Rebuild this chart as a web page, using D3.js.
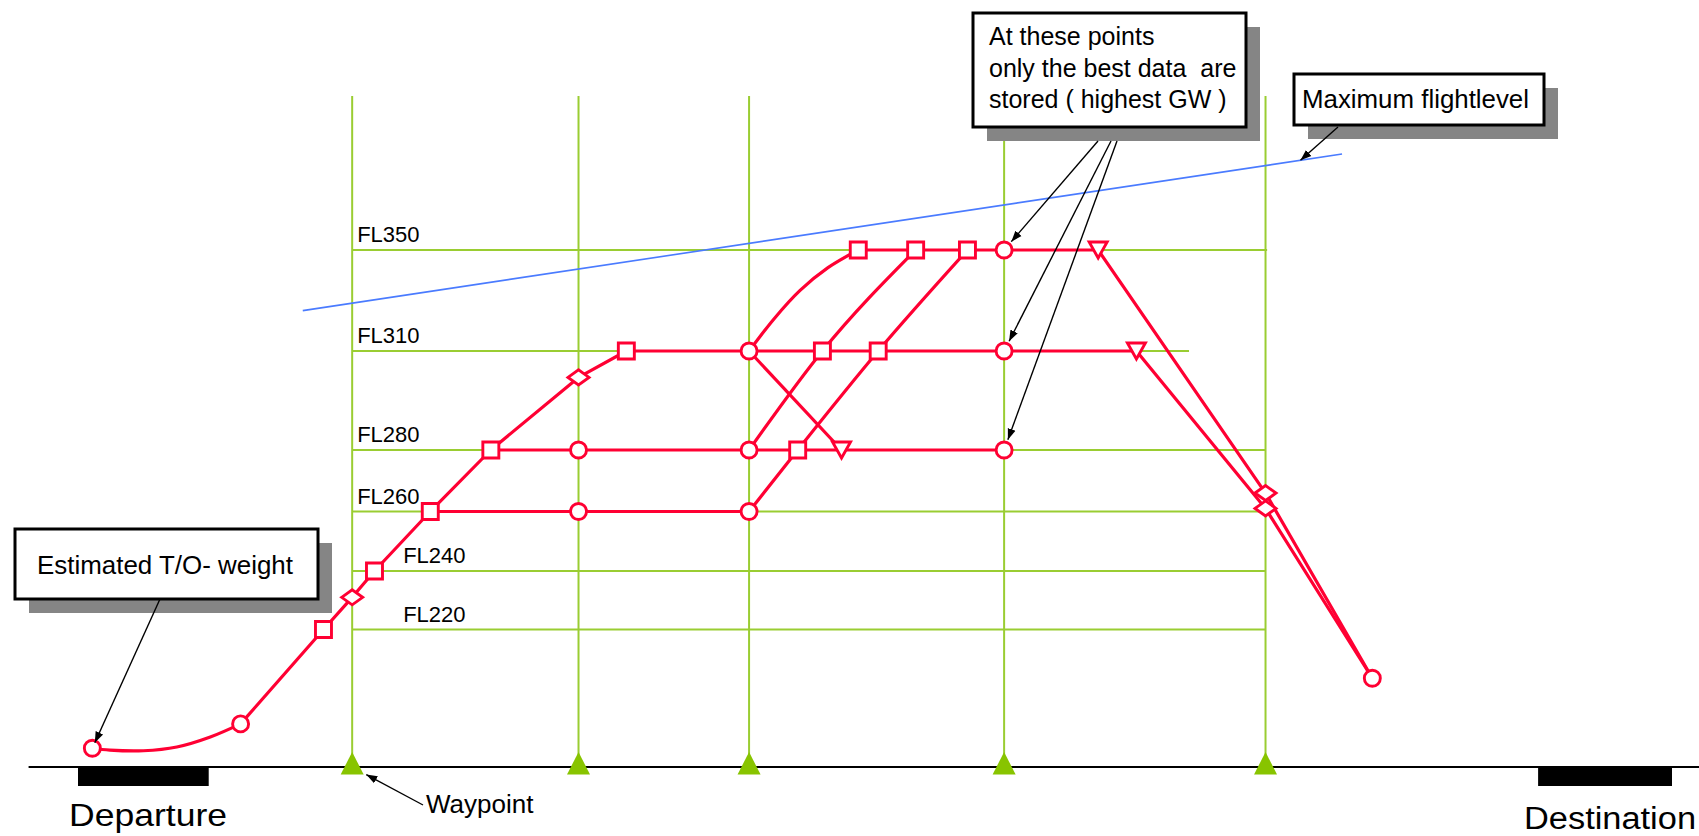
<!DOCTYPE html>
<html><head><meta charset="utf-8">
<script src="https://cdn.jsdelivr.net/npm/d3@7"></script>
<style>
body{margin:0;background:#fff;}
svg{display:block;}
text{font-family:"Liberation Sans",Arial,sans-serif;fill:#000;white-space:pre;}
</style>
</head><body><svg id="c" width="1699" height="836"></svg>
<script>
// ---------- data ----------
const flightLevels = [350, 310, 280, 260, 240, 220];
const flightLevelLabels = ["FL350", "FL310", "FL280", "FL260", "FL240", "FL220"];
const levelLineEnd = [746, 697, 745, 745, 745, 745];       // route distance where each level line stops
const waypoints = [172, 314, 421, 581, 745];               // route distance of waypoints
const airports = [{name: "Departure", from: 0, to: 82}, {name: "Destination", from: 916, to: 1000}];
const maxFlightLevel = [{d: 141, fl: 326}, {d: 793, fl: 388}];

const routeTakeoff = [{d: 9, fl: 30, m: "circle"}, {d: 20, fl: 27}, {d: 41, fl: 26}, {d: 62, fl: 32}, {d: 83, fl: 48}, {d: 102, fl: 69, m: "circle"}];
const routeClimb = [{d: 102, fl: 69}, {d: 154, fl: 220, m: "square"}, {d: 172, fl: 231, m: "diamond"}, {d: 186, fl: 240, m: "square"},
  {d: 221, fl: 260, m: "square"}, {d: 259, fl: 280, m: "square"}, {d: 314, fl: 302, m: "diamond"}, {d: 344, fl: 310, m: "square"},
  {d: 421, fl: 310, m: "circle"}, {d: 467, fl: 310, m: "square"}, {d: 502, fl: 310, m: "square"}, {d: 581, fl: 310, m: "circle"},
  {d: 664, fl: 310, m: "triangle"}];
const routeFL260 = [{d: 221, fl: 260}, {d: 314, fl: 260, m: "circle"}, {d: 421, fl: 260, m: "circle"}];
const routeFL260Climb = [{d: 421, fl: 260}, {d: 451.5, fl: 280, m: "square"}, {d: 502, fl: 310}, {d: 558, fl: 350, m: "square"}];
const routeFL280 = [{d: 259, fl: 280}, {d: 314, fl: 280, m: "circle"}, {d: 421, fl: 280, m: "circle"}, {d: 451.5, fl: 280},
  {d: 479, fl: 280, m: "triangle"}, {d: 581, fl: 280, m: "circle"}];
const routeFL280Climb = [{d: 421, fl: 280}, {d: 467, fl: 310}, {d: 525.5, fl: 350, m: "square"}];
const routeFL310Cross = [{d: 421, fl: 310}, {d: 479, fl: 280}];
const routeFL310Climb = [{d: 421, fl: 310}, {d: 437, fl: 323}, {d: 453, fl: 334}, {d: 470.5, fl: 343}, {d: 489.5, fl: 350, m: "square"}];
const routeFL350 = [{d: 489.5, fl: 350}, {d: 525.5, fl: 350}, {d: 558, fl: 350}, {d: 581, fl: 350, m: "circle"}, {d: 640, fl: 350, m: "triangle"}];
const routeDescent350 = [{d: 640, fl: 350}, {d: 745, fl: 266, m: "diamond"}, {d: 812, fl: 142, m: "circle"}];
const routeDescent310 = [{d: 664, fl: 310}, {d: 745, fl: 261, m: "diamond"}, {d: 812, fl: 142}];

const noteTakeoff = "Estimated T/O- weight";
const noteBest = ["At these points", "only the best data  are", "stored ( highest GW )"];
const noteMax = "Maximum flightlevel";
const noteWaypoint = "Waypoint";

// ---------- scales ----------
const x = d3.scaleLinear().domain([0, 1000]).range([78, 1672]);
// schematic (non-linear) vertical spacing of the flight levels
const y = d3.scaleLinear().domain([0, 220, 240, 260, 280, 310, 350]).range([767, 629.5, 571, 511.5, 450, 351, 250]);
const topFL = 411;

const RED = "#ff0033", GREEN = "#9acd32", TRI = "#88c400", BLUE = "#4a7bff";
const svg = d3.select("#c");

const defs = svg.append("defs");
defs.append("marker").attr("id", "ah").attr("viewBox", "0 0 10 10").attr("refX", 10).attr("refY", 5)
  .attr("markerWidth", 11).attr("markerHeight", 11).attr("markerUnits", "userSpaceOnUse").attr("orient", "auto")
  .append("path").attr("d", "M0,1.3L10,5L0,8.7z").attr("fill", "#000");

// ---------- grid ----------
const g = svg.append("g");
g.selectAll("line.wp").data(waypoints).join("line")
  .attr("x1", d => x(d)).attr("x2", d => x(d)).attr("y1", y(topFL)).attr("y2", y(0))
  .attr("stroke", GREEN).attr("stroke-width", 2);
g.selectAll("line.fl").data(flightLevels).join("line")
  .attr("x1", x(waypoints[0])).attr("x2", (d, i) => x(levelLineEnd[i])).attr("y1", d => y(d)).attr("y2", d => y(d))
  .attr("stroke", GREEN).attr("stroke-width", 2);
g.selectAll("text.fl").data(flightLevels).join("text")
  .attr("x", d => x(waypoints[0]) + (d <= 240 ? 51 : 5)).attr("y", d => y(d) - 8)
  .attr("font-size", 22).text((d, i) => flightLevelLabels[i]);

// baseline & airports
svg.append("line").attr("x1", x(-31)).attr("x2", 1699).attr("y1", y(0)).attr("y2", y(0)).attr("stroke", "#000").attr("stroke-width", 2);
svg.selectAll("rect.ap").data(airports).join("rect")
  .attr("x", d => x(d.from)).attr("width", d => x(d.to) - x(d.from)).attr("y", y(0)).attr("height", 19).attr("fill", "#000");
svg.append("text").attr("x", 69).attr("y", 826).attr("font-size", 32).attr("textLength", 158).attr("lengthAdjust", "spacingAndGlyphs").text(airports[0].name);
svg.append("text").attr("x", 1524).attr("y", 829).attr("font-size", 31).attr("textLength", 172).attr("lengthAdjust", "spacingAndGlyphs").text(airports[1].name);

// maximum flight level
svg.append("path").attr("d", d3.line().x(d => x(d.d)).y(d => y(d.fl))(maxFlightLevel))
  .attr("stroke", BLUE).attr("stroke-width", 1.6).attr("fill", "none");

// ---------- routes ----------
const routes = [
  [routeTakeoff, d3.curveCatmullRom.alpha(0.5)], [routeClimb, d3.curveLinear], [routeFL260, d3.curveLinear],
  [routeFL260Climb, d3.curveMonotoneX], [routeFL280, d3.curveLinear], [routeFL280Climb, d3.curveMonotoneX],
  [routeFL310Cross, d3.curveLinear], [routeFL310Climb, d3.curveCatmullRom.alpha(0.5)], [routeFL350, d3.curveLinear],
  [routeDescent350, d3.curveLinear], [routeDescent310, d3.curveLinear]
];
const rg = svg.append("g");
routes.forEach(([pts, curve]) => {
  rg.append("path").attr("d", d3.line().curve(curve).x(d => x(d.d)).y(d => y(d.fl))(pts))
    .attr("fill", "none").attr("stroke", RED).attr("stroke-width", 3.2).attr("stroke-linejoin", "round");
});
const markerPts = routes.flatMap(r => r[0].filter(p => p.m));
const shape = {
  circle: "M8,0A8,8 0 1,1 -8,0A8,8 0 1,1 8,0Z",
  square: "M-8,-8H8V8H-8Z",
  diamond: "M-10.5,0L0,-7.5L10.5,0L0,7.5Z",
  triangle: "M-9,-8H9L0,8Z"
};
rg.selectAll("path.mk").data(markerPts).join("path")
  .attr("transform", d => `translate(${x(d.d)},${y(d.fl)})`).attr("d", d => shape[d.m])
  .attr("fill", "#fff").attr("stroke", RED).attr("stroke-width", 2.9);

// waypoint triangles
svg.selectAll("path.wpt").data(waypoints).join("path")
  .attr("transform", d => `translate(${x(d)},${y(0)})`).attr("d", "M0,-15L11.5,7.5H-11.5Z").attr("fill", TRI);

// ---------- annotations ----------
function box(x0, y0, w, h) {
  svg.append("rect").attr("x", x0 + 14).attr("y", y0 + 14).attr("width", w).attr("height", h).attr("fill", "#858585");
  svg.append("rect").attr("x", x0).attr("y", y0).attr("width", w).attr("height", h).attr("fill", "#fff").attr("stroke", "#000").attr("stroke-width", 3);
}
function arrow(x1, y1, tx, ty, gap) {
  const dx = x1 - tx, dy = y1 - ty, L = Math.hypot(dx, dy);
  svg.append("line").attr("x1", x1).attr("y1", y1).attr("x2", tx + dx / L * gap).attr("y2", ty + dy / L * gap)
    .attr("stroke", "#000").attr("stroke-width", 1.4).attr("marker-end", "url(#ah)");
}
box(15, 529, 303, 70);
svg.append("text").attr("x", 37).attr("y", 574).attr("font-size", 26).attr("textLength", 256).attr("lengthAdjust", "spacingAndGlyphs").text(noteTakeoff);
arrow(160, 599, x(routeTakeoff[0].d), y(routeTakeoff[0].fl), 6);

box(973, 13, 273, 114);
svg.selectAll("text.best").data(noteBest).join("text")
  .attr("x", 989).attr("y", (d, i) => 45 + i * 31.5).attr("font-size", 25).text(d => d);
const bestTargets = [350, 310, 280];
const bestTails = [1098, 1111, 1117];
bestTargets.forEach((fl, i) => arrow(bestTails[i], 141, x(waypoints[3]), y(fl), 11));

box(1294, 74, 250, 51);
svg.append("text").attr("x", 1302).attr("y", 108).attr("font-size", 25).attr("textLength", 227).attr("lengthAdjust", "spacingAndGlyphs").text(noteMax);
{
  const t = 0.96;
  const d = maxFlightLevel[0].d + t * (maxFlightLevel[1].d - maxFlightLevel[0].d);
  const fl = maxFlightLevel[0].fl + t * (maxFlightLevel[1].fl - maxFlightLevel[0].fl);
  arrow(1338, 127, x(d), y(fl), 0);
}

svg.append("text").attr("x", 426).attr("y", 813).attr("font-size", 26).text(noteWaypoint);
arrow(423, 805, x(waypoints[0]), y(0), 16);
</script>
</body></html>
